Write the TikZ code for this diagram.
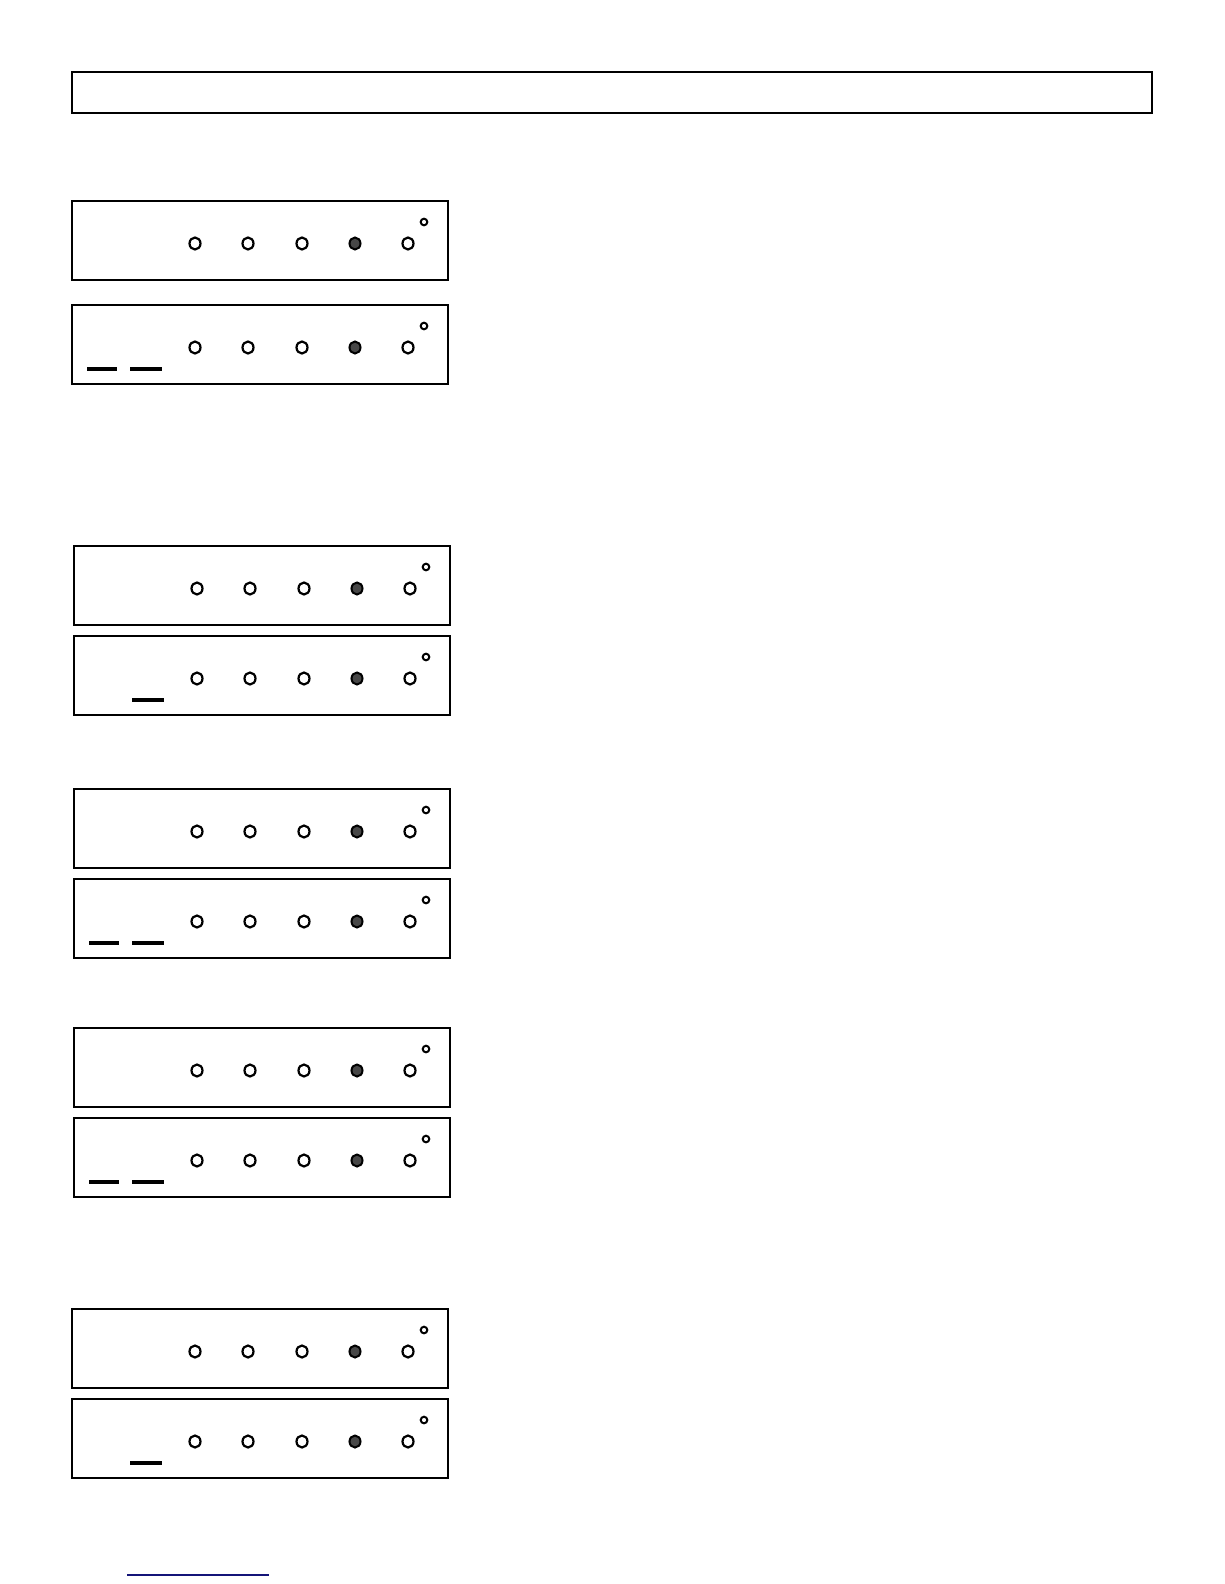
\documentclass[tikz,border=0pt]{standalone}
\begin{document}
\begin{tikzpicture}[x=1pt,y=-1pt,
  panelbox/.style={draw=black,line width=2pt},
  led/.style={draw=black,line width=2.2pt,fill=white},
  ledon/.style={draw=black,line width=2pt,fill=black!72},
  ledsmall/.style={draw=black,line width=2pt,fill=white},
  seg/.style={line width=3.2pt,black},
  linkline/.style={line width=2pt,draw={rgb,255:red,20;green,20;blue,120}}]
\useasboundingbox (0,0) rectangle (1224,1584);
\fill[white] (0,0) rectangle (1224,1584);
% header box
\draw[panelbox] (72,72) rectangle (1152,113);
% panel macro: #1 = left x, #2 = top y, #3 = dash mode (0 none, 1 right, 2 both)
\newcommand\ledpanel[3]{%
  \draw[panelbox] (#1,#2) rectangle ++(376,79);
  \foreach \dx in {123,176,230,336}{
    \draw[led] (#1+\dx,#2+42.5) circle[x radius=5.5,y radius=6];
  }
  \draw[ledon] (#1+283,#2+42.5) circle[x radius=5.5,y radius=6];
  \draw[ledsmall] (#1+352,#2+21) circle[radius=3.3];
  \ifnum#3>1 \draw[seg] (#1+15,#2+64) -- (#1+45,#2+64);\fi
  \ifnum#3>0 \draw[seg] (#1+58,#2+64) -- (#1+90,#2+64);\fi
}
\ledpanel{72}{201}{0}
\ledpanel{72}{305}{2}
\ledpanel{74}{546}{0}
\ledpanel{74}{636}{1}
\ledpanel{74}{789}{0}
\ledpanel{74}{879}{2}
\ledpanel{74}{1028}{0}
\ledpanel{74}{1118}{2}
\ledpanel{72}{1309}{0}
\ledpanel{72}{1399}{1}
% link underline
\coordinate (la) at (127,1575);
\coordinate (lb) at (269,1575);
\draw[linkline] (la) -- (lb);
\end{tikzpicture}
\end{document}
